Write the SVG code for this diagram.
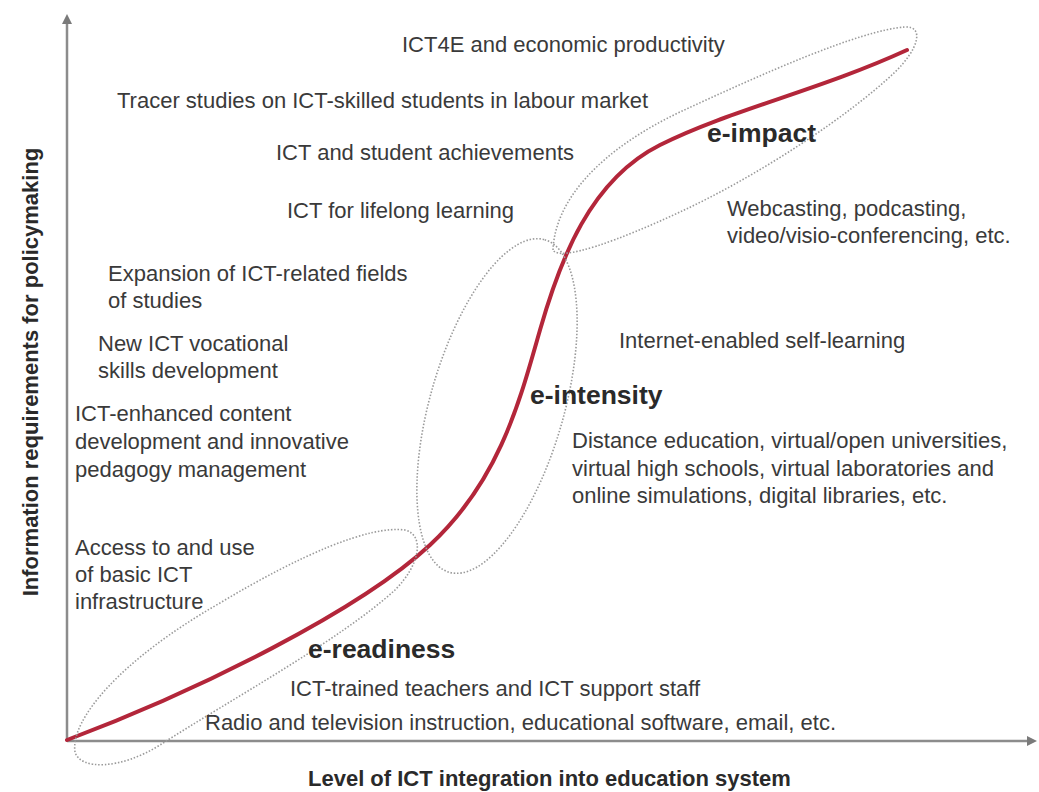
<svg xmlns="http://www.w3.org/2000/svg" width="1039" height="792" viewBox="0 0 1039 792">
<defs>
<style>
.t{font-family:"Liberation Sans",Arial,sans-serif;font-size:22px;fill:#3a3a3a}
.b{font-family:"Liberation Sans",Arial,sans-serif;font-size:26.5px;font-weight:bold;fill:#2a2a2a}
.ax{font-family:"Liberation Sans",Arial,sans-serif;font-size:22px;font-weight:bold;fill:#2a2a2a}
.axis{stroke:#8c8c8c;stroke-width:2.5;fill:none}
.zone{fill:none;stroke:#9a9a9a;stroke-width:1.6;stroke-dasharray:1.5 1.8}
.curve{fill:none;stroke:#b3263a;stroke-width:4;stroke-linecap:round}
</style>
<marker id="arr" viewBox="0 0 10 10" refX="2" refY="5" markerWidth="4" markerHeight="4.5" orient="auto" markerUnits="strokeWidth">
<path d="M0,0 L10,5 L0,10 Z" fill="#7a7a7a"/>
</marker>
</defs>
<rect width="1039" height="792" fill="#ffffff"/>

<g id="axes">
<line class="axis" x1="67" y1="741" x2="67" y2="22" marker-end="url(#arr)"/>
<line class="axis" x1="67" y1="741" x2="1029" y2="741" marker-end="url(#arr)"/>
<text class="ax" transform="translate(38,372) rotate(-90)" text-anchor="middle">Information requirements for policymaking</text>
<text class="ax" x="308" y="786">Level of ICT integration into education system</text>
</g>

<g id="connectors">
<path class="curve" d="M67,740 C200,690 360,610 430,545 C500,480 520,400 540,330 C560,260 590,180 660,145 C730,110 820,90 907,50"/>
</g>

<g id="e-readiness">
<path class="zone" d="M75,752 C70,720 120,660 220,603 C300,555 370,525 405,530 C425,535 420,565 395,590 C340,640 230,700 160,745 C120,770 80,770 75,752 Z"/>
<text class="b" x="308" y="658">e-readiness</text>
<text class="t" x="290" y="696">ICT-trained teachers and ICT support staff</text>
<text class="t" x="205" y="730">Radio and television instruction, educational software, email, etc.</text>
</g>

<g id="e-intensity">
<ellipse class="zone" cx="497" cy="406" rx="173" ry="67" transform="rotate(-74 497 406)"/>
<text class="b" x="530" y="404">e-intensity</text>
<text class="t" x="619" y="348">Internet-enabled self-learning</text>
<text class="t" x="572" y="448">Distance education, virtual/open universities,</text>
<text class="t" x="572" y="476">virtual high schools, virtual laboratories and</text>
<text class="t" x="572" y="503">online simulations, digital libraries, etc.</text>
</g>

<g id="e-impact">
<path class="zone" d="M553,250 C555,200 600,150 680,112 C760,75 860,30 905,27 C925,26 918,50 895,72 C850,115 760,175 680,212 C620,240 560,262 553,250 Z"/>
<text class="b" x="707" y="142">e-impact</text>
<text class="t" x="727" y="216">Webcasting, podcasting,</text>
<text class="t" x="727" y="243">video/visio-conferencing, etc.</text>
</g>

<g id="policy-needs">
<text class="t" x="402" y="52">ICT4E and economic productivity</text>
<text class="t" x="117" y="108">Tracer studies on ICT-skilled students in labour market</text>
<text class="t" x="276" y="160">ICT and student achievements</text>
<text class="t" x="287" y="218">ICT for lifelong learning</text>
<text class="t" x="108" y="281">Expansion of ICT-related fields</text>
<text class="t" x="108" y="308">of studies</text>
<text class="t" x="98" y="351">New ICT vocational</text>
<text class="t" x="98" y="378">skills development</text>
<text class="t" x="75" y="421">ICT-enhanced content</text>
<text class="t" x="75" y="449">development and innovative</text>
<text class="t" x="75" y="477">pedagogy management</text>
<text class="t" x="75" y="555">Access to and use</text>
<text class="t" x="75" y="582">of basic ICT</text>
<text class="t" x="75" y="609">infrastructure</text>
</g>
</svg>
